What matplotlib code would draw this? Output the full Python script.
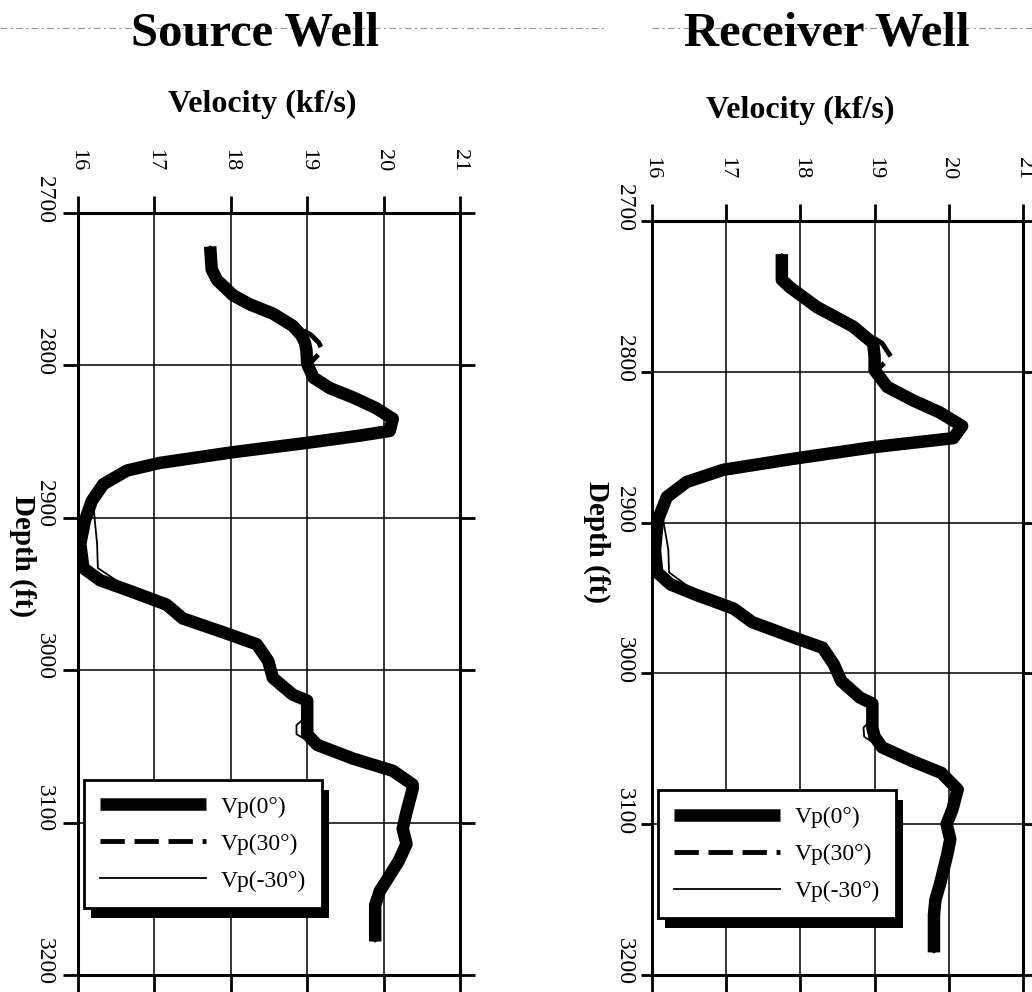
import matplotlib
matplotlib.use("Agg")
import matplotlib.pyplot as plt
import matplotlib.patheffects as pe
import matplotlib.transforms as mtransforms
from matplotlib.lines import Line2D

plt.rcParams['font.family'] = ['Liberation Serif', 'DejaVu Serif']

# velocity ticks (kf/s) and depth ticks (ft)
vel_ticks = [16, 17, 18, 19, 20, 21]
depth_ticks = [2700, 2800, 2900, 3000, 3100, 3200]

# ---- Source well ----
src_depth = [2722, 2737, 2744, 2754, 2760, 2766, 2774, 2780, 2785, 2790, 2799,
             2808, 2815, 2821, 2828, 2835, 2843, 2846, 2851, 2857, 2864, 2869,
             2878, 2889, 2902, 2917, 2933, 2941, 2948, 2957, 2966, 2976, 2983,
             2994, 3005, 3016, 3020, 3031, 3036, 3042, 3049, 3058, 3066, 3075,
             3078, 3093, 3104, 3114, 3125, 3145, 3154, 3178]
src_vp0 = [17.73, 17.75, 17.82, 18.03, 18.25, 18.55, 18.81, 18.92, 18.97, 18.99, 19.00,
           19.08, 19.30, 19.60, 19.90, 20.12, 20.08, 19.70, 18.97, 18.02, 17.07, 16.64,
           16.33, 16.18, 16.09, 16.03, 16.07, 16.29, 16.68, 17.16, 17.37, 17.95, 18.34,
           18.49, 18.55, 18.81, 19.00, 19.00, 19.00, 19.00, 19.13, 19.60, 20.12, 20.38,
           20.38, 20.30, 20.25, 20.30, 20.20, 19.95, 19.89, 19.89]
src_vp30 = [17.73, 17.75, 17.82, 18.03, 18.25, 18.55, 18.85, 19.05, 19.15, 19.20, 19.03,
            19.08, 19.30, 19.60, 19.90, 20.12, 20.08, 19.70, 18.97, 18.02, 17.07, 16.64,
            16.33, 16.18, 16.09, 16.03, 16.07, 16.29, 16.68, 17.16, 17.37, 17.95, 18.34,
            18.49, 18.55, 18.81, 19.00, 19.00, 19.00, 19.00, 19.13, 19.60, 20.12, 20.38,
            20.38, 20.30, 20.25, 20.30, 20.20, 19.95, 19.89, 19.89]
src_vpm30 = [17.73, 17.75, 17.82, 18.03, 18.25, 18.55, 18.81, 18.92, 18.97, 18.99, 19.00,
             19.08, 19.30, 19.60, 19.90, 20.12, 20.08, 19.70, 18.97, 18.02, 17.07, 16.64,
             16.33, 16.20, 16.22, 16.25, 16.26, 16.50, 16.70, 17.16, 17.37, 17.95, 18.34,
             18.49, 18.55, 18.81, 19.00, 18.98, 18.86, 18.86, 19.10, 19.60, 20.12, 20.38,
             20.38, 20.30, 20.25, 20.30, 20.20, 19.95, 19.89, 19.89]

# ---- Receiver well ----
rcv_depth = [2722, 2739, 2744, 2757, 2770, 2781, 2790, 2799, 2810, 2819, 2827,
             2836, 2844, 2850, 2858, 2865, 2873, 2883, 2898, 2918, 2933, 2941,
             2948, 2957, 2966, 2976, 2983, 2994, 3005, 3016, 3020, 3031, 3036,
             3042, 3049, 3058, 3066, 3077, 3090, 3100, 3110, 3120, 3140, 3150,
             3160, 3185]
rcv_vp0 = [17.75, 17.75, 17.86, 18.22, 18.71, 18.98, 19.00, 19.00, 19.17, 19.52, 19.88,
           20.18, 20.06, 18.98, 17.86, 16.96, 16.47, 16.20, 16.08, 16.04, 16.07, 16.25,
           16.60, 17.10, 17.35, 17.90, 18.30, 18.45, 18.55, 18.80, 18.97, 18.97, 18.97,
           19.00, 19.10, 19.50, 19.90, 20.12, 20.05, 19.97, 20.02, 19.98, 19.88, 19.82,
           19.80, 19.80]
rcv_vp30 = [17.75, 17.75, 17.86, 18.22, 18.75, 19.10, 19.22, 19.03, 19.17, 19.52, 19.88,
            20.18, 20.06, 18.98, 17.86, 16.96, 16.47, 16.20, 16.08, 16.04, 16.07, 16.25,
            16.60, 17.10, 17.35, 17.90, 18.30, 18.45, 18.55, 18.80, 18.97, 18.97, 18.97,
            19.00, 19.10, 19.50, 19.90, 20.12, 20.05, 19.97, 20.02, 19.98, 19.88, 19.82,
            19.80, 19.80]
rcv_vpm30 = [17.75, 17.75, 17.86, 18.22, 18.71, 18.98, 19.00, 19.00, 19.17, 19.52, 19.88,
             20.18, 20.06, 18.98, 17.86, 16.96, 16.47, 16.20, 16.15, 16.22, 16.23, 16.45,
             16.65, 17.10, 17.35, 17.90, 18.30, 18.45, 18.55, 18.80, 18.97, 18.95, 18.85,
             18.86, 19.08, 19.50, 19.90, 20.12, 20.05, 19.97, 20.02, 19.98, 19.88, 19.82,
             19.80, 19.80]

labels = ['Vp(0°)', 'Vp(30°)', 'Vp(-30°)']

W, H = 1032, 992
fig = plt.figure(figsize=(W / 100, H / 100), dpi=100)
fig.patch.set_facecolor('white')


def panel(rect, depth, vp0, vp30, vpm30, ylen, dlab_off, ylab_xy, leg_xy):
    ax = fig.add_axes(rect)
    ax.plot(vp0, depth, color='k', lw=9, solid_capstyle='butt',
            solid_joinstyle='round', label=labels[0], zorder=3)
    ax.plot(vp30, depth, color='k', lw=3.5, ls=(0, (5, 2)), label=labels[1], zorder=4)
    ax.plot(vpm30, depth, color='k', lw=1.3, label=labels[2], zorder=4)

    ax.set_xlim(16, 21)
    ax.set_ylim(3200, 2700)
    ax.set_xticks(vel_ticks)
    ax.set_yticks(depth_ticks)
    ax.xaxis.tick_top()
    ax.grid(True, color='k', lw=1.1)
    for s in ax.spines.values():
        s.set_linewidth(2.2)
    ax.tick_params(axis='both', direction='out', length=12, width=2,
                   top=True, bottom=True, left=True, right=True,
                   labeltop=True, labelbottom=False, labelleft=False, labelright=False)
    ax.tick_params(axis='x', labelrotation=-90, labelsize=16, pad=18)
    ax.tick_params(axis='y', length=ylen)

    # depth labels: rotated, sitting a little above their ticks
    tr = mtransforms.blended_transform_factory(ax.transAxes, ax.transData)
    tr = tr + mtransforms.ScaledTranslation(dlab_off[0] / 72, dlab_off[1] / 72,
                                            fig.dpi_scale_trans)
    for d in depth_ticks:
        ax.text(0, d, str(d), transform=tr, rotation=-90, fontsize=17,
                ha='right', va='center', clip_on=False)

    ax.set_ylabel('Depth (ft)', fontsize=21, fontweight='bold', rotation=-90,
                  ha='center', va='center')
    ax.yaxis.set_label_coords(*ylab_xy)

    leg = ax.legend(loc='upper left', bbox_to_anchor=leg_xy, borderaxespad=0,
                    fancybox=False, framealpha=1, edgecolor='k',
                    handlelength=4.5, handletextpad=0.6,
                    labelspacing=0.66, borderpad=0.68, prop={'size': 17})
    fr = leg.get_frame()
    fr.set_linewidth(2)
    fr.set_path_effects([pe.SimplePatchShadow(offset=(5, -7), shadow_rgbFace='k', alpha=1),
                         pe.Normal()])
    return ax


axL = panel([78 / W, 1 - 975 / H, 382 / W, 762 / H],
            src_depth, src_vp0, src_vp30, src_vpm30,
            11, (-16.5, 10), (-0.145, 0.55), (0.016, 0.256))
axR = panel([652 / W, 1 - 975 / H, 371 / W, 754 / H],
            rcv_depth, rcv_vp0, rcv_vp30, rcv_vpm30,
            8, (-12, 9.4), (-0.148, 0.574), (0.016, 0.245))

# headings
fig.text(255 / W, 1 - 45 / H, 'Source Well', fontsize=35, fontweight='bold',
         ha='center', va='baseline')
fig.text(827 / W, 1 - 45 / H, 'Receiver Well', fontsize=35, fontweight='bold',
         ha='center', va='baseline')
fig.text(262 / W, 1 - 104 / H, 'Velocity (kf/s)', fontsize=23, fontweight='bold',
         ha='center', va='center')
fig.text(800 / W, 1 - 110 / H, 'Velocity (kf/s)', fontsize=23, fontweight='bold',
         ha='center', va='center')

# faint scan rule behind the headings
yl = 1 - 28 / H
for x0, x1 in [(0, 604 / W), (652 / W, 1)]:
    fig.add_artist(Line2D([x0, x1], [yl, yl], transform=fig.transFigure,
                          color='0.6', lw=0.8, ls=(0, (6, 3, 2, 3)), zorder=0))

fig.savefig('out.png', dpi=100, facecolor='white')
